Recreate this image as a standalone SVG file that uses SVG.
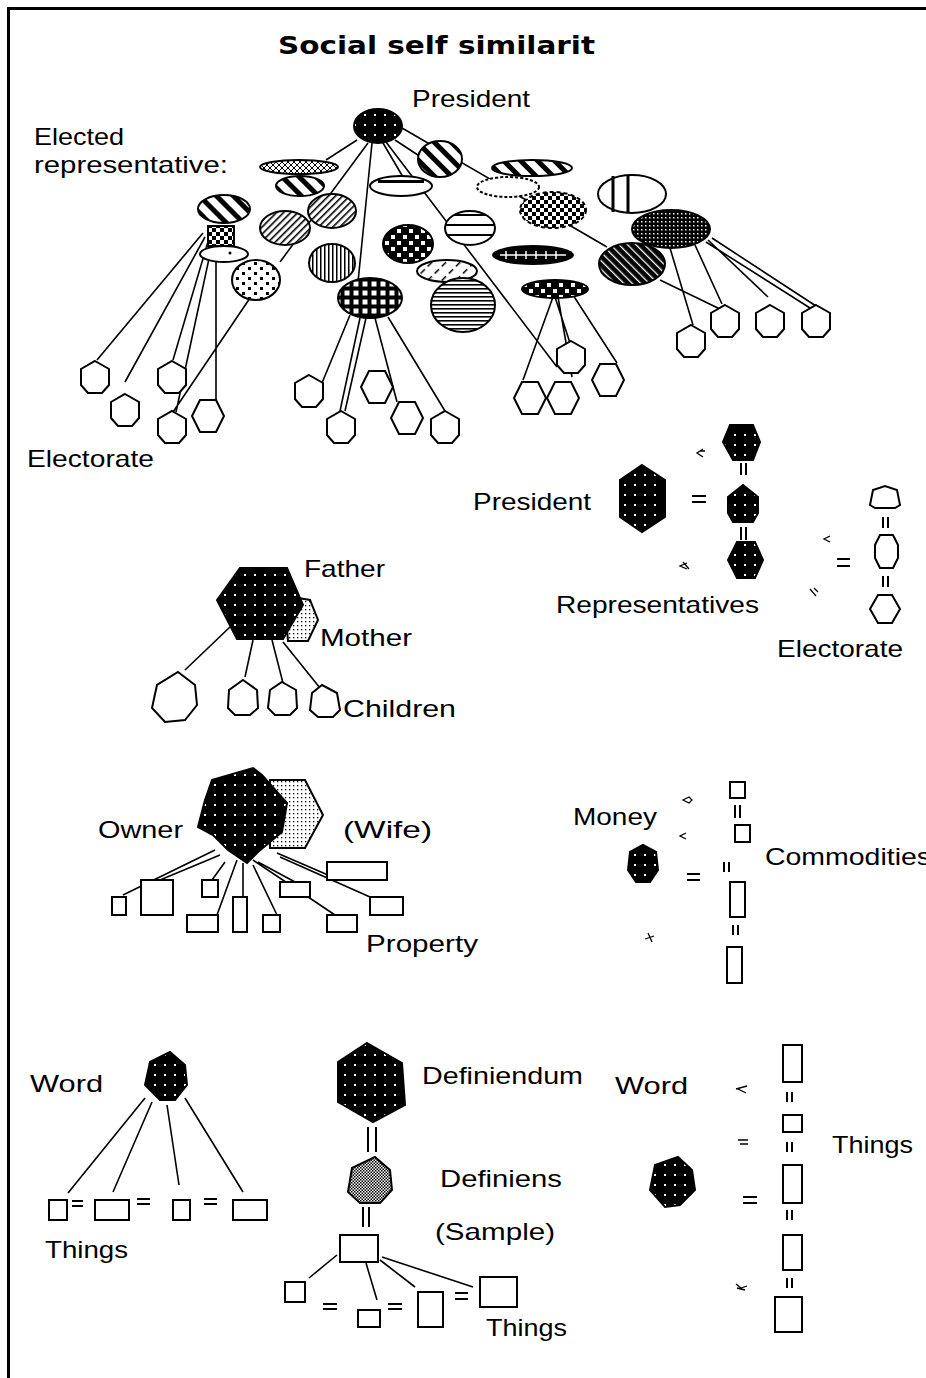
<svg xmlns="http://www.w3.org/2000/svg" width="926" height="1378" viewBox="0 0 926 1378">
<style>
.t{font-family:"Liberation Sans","DejaVu Sans",sans-serif;font-size:24px;fill:#000}
.ttl{font-family:"DejaVu Sans","Liberation Sans",sans-serif;font-size:24px;font-weight:bold;fill:#000}
.ln{stroke:#000;stroke-width:1.6;fill:none}
.o{stroke:#000;stroke-width:2;fill:#fff}
.ob{stroke:#000;stroke-width:2}
.eq{stroke:#000;stroke-width:2;fill:none}
.mk{stroke:#000;stroke-width:1.3;fill:none}
</style>
<defs>
<pattern id="pDots" width="10" height="10" patternUnits="userSpaceOnUse"><rect width="10" height="10" fill="#000"/><rect x="4" y="4" width="2" height="2" fill="#fff"/></pattern>
<pattern id="pFine" width="4" height="4" patternUnits="userSpaceOnUse"><rect width="4" height="4" fill="#000"/><rect x="1" y="1" width="1.5" height="1.5" fill="#fff"/></pattern>
<pattern id="pSpots" width="12" height="10" patternUnits="userSpaceOnUse"><rect width="12" height="10" fill="#fff"/><rect x="2" y="2" width="3" height="3" fill="#000"/><rect x="8" y="7" width="3" height="3" fill="#000"/></pattern>
<pattern id="pLight" width="4" height="4" patternUnits="userSpaceOnUse"><rect width="4" height="4" fill="#fff"/><rect x="1" y="1" width="1.3" height="1.3" fill="#000"/></pattern>
<pattern id="pGray" width="3" height="3" patternUnits="userSpaceOnUse"><rect width="3" height="3" fill="#fff"/><rect width="1.5" height="1.5" fill="#000"/><rect x="1.5" y="1.5" width="1.5" height="1.5" fill="#000"/></pattern>
<pattern id="pDiagF" width="5" height="5" patternUnits="userSpaceOnUse" patternTransform="rotate(45)"><rect width="5" height="5" fill="#fff"/><rect width="1.6" height="5" fill="#000"/></pattern>
<pattern id="pDiagT" width="12" height="12" patternUnits="userSpaceOnUse" patternTransform="rotate(-45)"><rect width="12" height="12" fill="#fff"/><rect width="5" height="12" fill="#000"/></pattern>
<pattern id="pDiagB" width="6" height="6" patternUnits="userSpaceOnUse" patternTransform="rotate(-45)"><rect width="6" height="6" fill="#000"/><rect width="1.3" height="6" fill="#fff"/></pattern>
<pattern id="pDash" width="10" height="10" patternUnits="userSpaceOnUse" patternTransform="rotate(45)"><rect width="10" height="10" fill="#fff"/><rect width="1.5" height="6" fill="#000"/></pattern>
<pattern id="pVert" width="4" height="4" patternUnits="userSpaceOnUse"><rect width="4" height="4" fill="#fff"/><rect width="1.5" height="4" fill="#000"/></pattern>
<pattern id="pHoriz" width="4" height="4" patternUnits="userSpaceOnUse"><rect width="4" height="4" fill="#fff"/><rect width="4" height="1.6" fill="#000"/></pattern>
<pattern id="pHorizW" width="10" height="10" patternUnits="userSpaceOnUse"><rect width="10" height="10" fill="#fff"/><rect y="4" width="10" height="2" fill="#000"/></pattern>
<pattern id="pGrid" width="9" height="9" patternUnits="userSpaceOnUse"><rect width="9" height="9" fill="#000"/><rect x="2.5" y="2.5" width="5" height="5" fill="#fff"/></pattern>
<pattern id="pChecker" width="12" height="12" patternUnits="userSpaceOnUse"><rect width="12" height="12" fill="#000"/><rect x="1" y="1" width="4" height="4" fill="#fff"/><rect x="7" y="7" width="4" height="4" fill="#fff"/></pattern>
<pattern id="pCheck2" width="8" height="8" patternUnits="userSpaceOnUse"><rect width="8" height="8" fill="#fff"/><rect width="4" height="4" fill="#000"/><rect x="4" y="4" width="4" height="4" fill="#000"/></pattern>
<pattern id="pCross" width="6" height="6" patternUnits="userSpaceOnUse"><rect width="6" height="6" fill="#fff"/><path d="M0,0L6,6M6,0L0,6" stroke="#000" stroke-width="1"/></pattern>
<polygon id="hp" points="0,-16 14,-8 14,8 7,16 -7,16 -14,8 -14,-8" fill="#fff" stroke="#000" stroke-width="2"/>
<polygon id="hf" points="-8,-16 8,-16 16,0 8,16 -8,16 -16,0" fill="#fff" stroke="#000" stroke-width="2"/>
</defs>
<rect width="926" height="1378" fill="#fff"/>
<path d="M8.5,1378V8.5H926" stroke="#000" stroke-width="3" fill="none"/>

<text class="ttl" x="278" y="54" textLength="317" lengthAdjust="spacingAndGlyphs">Social self similarit</text>

<g id="connectors">
<path class="ln" d="M357,140L326,160M368,143L280,262M372,143L358,282M383,143L403,177M386,142L557,367M402,128L607,247M395,140L430,163"/>
<path class="ln" d="M203,233L97,360M205,237L125,382M210,235L173,360M213,240L176,412M216,232V400H211M250,298L173,412"/>
<path class="ln" d="M350,315L322,383M360,318L340,411M366,318L345,411M375,318L397,402M388,317L445,411"/>
<path class="ln" d="M553,297L523,380M555,297L570,343M558,297L572,377M573,295L617,363"/>
<path class="ln" d="M670,248L693,325M695,245L722,304M660,280L722,310M708,240L768,297M712,238L816,306M706,242L810,308"/>
<path class="ln" d="M230,627L185,670M253,640L245,677M272,640L283,683M283,642L320,688"/>
<path class="ln" d="M215,850L123,895M220,855L160,880M225,862L212,880M237,860L217,915M243,863V897M253,865L277,915M258,862L295,882M253,860L335,915M277,853L328,875M280,857L370,897"/>
<path class="ln" d="M145,1098L68,1193M152,1102L113,1192M167,1105L179,1185M185,1098L243,1192"/>
<path class="ln" d="M337,1255L309,1278M366,1263L377,1300M380,1260L415,1287M382,1257L473,1287"/>
</g>

<g id="president"><ellipse cx="378" cy="126" rx="24" ry="17" fill="url(#pDots)" class="ob"/></g>
<g id="rep1"><ellipse cx="299" cy="167" rx="39" ry="7" fill="url(#pCross)" class="ob"/></g>
<g id="rep2"><ellipse cx="300" cy="186" rx="24" ry="10" fill="url(#pDiagT)" class="ob"/></g>
<g id="rep3"><ellipse cx="224" cy="209" rx="26" ry="14" fill="url(#pDiagT)" class="ob"/></g>
<g id="rep3b"><rect x="208" y="226" width="26" height="20" fill="url(#pCheck2)" class="ob" stroke-width="1"/></g>
<g id="rep24"><ellipse cx="224" cy="254" rx="24" ry="8" class="o"/><circle cx="230" cy="253" r="1.5"/></g>
<g id="rep4"><ellipse cx="285" cy="228" rx="25" ry="17" fill="url(#pDiagF)" class="ob"/></g>
<g id="rep5"><ellipse cx="332" cy="211" rx="24" ry="17" fill="url(#pDiagF)" class="ob"/></g>
<g id="rep6"><ellipse cx="332" cy="263" rx="23" ry="19" fill="url(#pVert)" class="ob"/></g>
<g id="rep7"><ellipse cx="256" cy="280" rx="24" ry="20" fill="url(#pSpots)" class="ob" stroke-width="3"/></g>
<g id="rep8"><ellipse cx="370" cy="298" rx="32" ry="20" fill="url(#pGrid)" class="ob"/></g>
<g id="rep9"><ellipse cx="408" cy="244" rx="25" ry="19" fill="url(#pChecker)" class="ob"/></g>
<g id="rep10"><ellipse cx="401" cy="186" rx="31" ry="10" class="o"/><rect x="378" y="180" width="46" height="3" fill="#000"/></g>
<g id="rep11"><ellipse cx="440" cy="159" rx="22" ry="18" fill="url(#pDiagT)" class="ob"/></g>
<g id="rep12"><ellipse cx="470" cy="228" rx="25" ry="17" fill="url(#pHorizW)" class="ob"/></g>
<g id="rep13"><ellipse cx="533" cy="255" rx="41" ry="10" fill="#000"/><path d="M500,255H566M506,251V259M516,251V259M526,251V259M536,251V259M546,251V259M556,251V259" stroke="#fff" stroke-width="1.5"/></g>
<g id="rep14"><ellipse cx="447" cy="271" rx="30" ry="11" fill="url(#pDash)" class="ob" stroke-width="1.5"/></g>
<g id="rep15"><ellipse cx="463" cy="305" rx="32" ry="27" fill="url(#pHoriz)" class="ob"/></g>
<g id="rep16"><ellipse cx="532" cy="168" rx="40" ry="8" fill="url(#pDiagT)" class="ob"/></g>
<g id="rep17"><ellipse cx="508" cy="187" rx="31" ry="10" class="o" stroke-dasharray="3 2"/></g>
<g id="rep18"><ellipse cx="553" cy="210" rx="33" ry="18" fill="url(#pCheck2)" class="ob" stroke-dasharray="4 3"/></g>
<g id="rep19"><ellipse cx="632" cy="194" rx="34" ry="19" class="o" stroke-width="3"/><path d="M613,176V212M628,175V213" stroke="#000" stroke-width="3"/></g>
<g id="rep21"><ellipse cx="632" cy="264" rx="33" ry="21" fill="url(#pDiagB)" class="ob"/></g>
<g id="rep20"><ellipse cx="671" cy="229" rx="39" ry="19" fill="url(#pFine)" class="ob"/></g>
<g id="rep23"><ellipse cx="555" cy="289" rx="33" ry="9" fill="url(#pChecker)" class="ob"/></g>

<g id="el1"><use href="#hp" x="95" y="377"/></g>
<g id="el2"><use href="#hp" x="125" y="410"/></g>
<g id="el3"><use href="#hp" x="172" y="377"/></g>
<g id="el4"><use href="#hp" x="172" y="427"/></g>
<g id="el5"><use href="#hf" x="208" y="416"/></g>
<g id="el6"><use href="#hp" x="309" y="391"/></g>
<g id="el7"><use href="#hf" x="377" y="387"/></g>
<g id="el8"><use href="#hp" x="341" y="427"/></g>
<g id="el9"><use href="#hf" x="407" y="418"/></g>
<g id="el10"><use href="#hp" x="445" y="427"/></g>
<g id="el11"><use href="#hp" x="571" y="357"/></g>
<g id="el12"><use href="#hf" x="530" y="398"/></g>
<g id="el13"><use href="#hf" x="563" y="398"/></g>
<g id="el14"><use href="#hf" x="608" y="380"/></g>
<g id="el15"><use href="#hp" x="691" y="341"/></g>
<g id="el16"><use href="#hp" x="725" y="321"/></g>
<g id="el17"><use href="#hp" x="770" y="321"/></g>
<g id="el18"><use href="#hp" x="816" y="321"/></g>

<text class="t" x="412" y="107" textLength="118" lengthAdjust="spacingAndGlyphs">President</text>
<text class="t" x="34" y="145" textLength="90" lengthAdjust="spacingAndGlyphs">Elected</text>
<text class="t" x="34" y="173" textLength="194" lengthAdjust="spacingAndGlyphs">representative:</text>
<text class="t" x="27" y="467" textLength="127" lengthAdjust="spacingAndGlyphs">Electorate</text>

<g id="bigPresident"><polygon points="642,465 665,480 665,517 642,532 620,517 620,480" fill="url(#pDots)" class="ob"/></g>
<g id="repTop"><polygon points="730,425 753,425 760,442 753,460 733,460 723,442" fill="url(#pDots)" class="ob"/></g>
<g id="repMid"><polygon points="743,485 758,497 758,513 753,522 733,522 728,513 728,497" fill="url(#pDots)" class="ob"/></g>
<g id="repBot"><polygon points="737,542 755,542 763,560 755,578 737,578 728,560" fill="url(#pDots)" class="ob"/></g>
<g id="elTop"><polygon points="873,490 885,486 897,490 900,505 895,508 875,508 870,505" class="o"/></g>
<g id="elMid"><polygon points="880,535 893,535 898,545 898,558 893,568 880,568 875,558 875,545" class="o"/></g>
<g id="elBot"><polygon points="878,595 892,595 900,609 892,623 878,623 870,609" class="o"/></g>
<path class="eq" d="M692,496H706M692,502H706M741,463V475M746,463V475M741,527V540M746,527V540M883,517V528M888,517V528M883,576V587M888,576V587M837,559H850M837,566H850"/>
<path class="mk" d="M703,449L697,453L703,457M700,451L705,451M687,563L680,566L687,569M683,562L689,569M830,536L824,539L830,542M810,589L816,596M814,588L818,592"/>
<text class="t" x="473" y="510" textLength="118" lengthAdjust="spacingAndGlyphs">President</text>
<text class="t" x="556" y="613" textLength="203" lengthAdjust="spacingAndGlyphs">Representatives</text>
<text class="t" x="777" y="657" textLength="126" lengthAdjust="spacingAndGlyphs">Electorate</text>

<g id="mother"><polygon points="292,597 310,600 318,620 308,641 288,641 285,605" fill="url(#pLight)" class="ob" stroke-width="1.5"/></g>
<g id="father"><polygon points="240,568 287,568 303,605 283,639 237,639 217,600" fill="url(#pDots)" class="ob"/></g>
<g id="child1"><polygon points="178,672 195,685 197,705 185,720 165,722 152,708 157,685" class="o"/></g>
<g id="child2"><polygon points="243,680 257,690 258,708 250,715 235,715 228,708 229,690" class="o"/></g>
<g id="child3"><polygon points="282,682 296,690 297,708 290,715 275,715 268,708 270,690" class="o"/></g>
<g id="child4"><polygon points="322,685 337,693 340,710 333,717 318,717 310,710 312,693" class="o"/></g>
<text class="t" x="304" y="577" textLength="81" lengthAdjust="spacingAndGlyphs">Father</text>
<text class="t" x="320" y="646" textLength="92" lengthAdjust="spacingAndGlyphs">Mother</text>
<text class="t" x="343" y="717" textLength="113" lengthAdjust="spacingAndGlyphs">Children</text>

<g id="wife"><polygon points="270,780 305,780 323,815 305,848 270,848" fill="url(#pLight)" class="ob" stroke-width="1.5"/></g>
<g id="owner"><polygon points="212,780 253,768 262,775 287,803 282,832 258,852 247,863 228,850 213,835 198,827 205,800" fill="url(#pDots)" class="ob"/></g>
<g id="prop1"><rect x="112" y="897" width="14" height="18" class="o"/></g>
<g id="prop2"><rect x="141" y="880" width="32" height="35" class="o"/></g>
<g id="prop3"><rect x="202" y="880" width="16" height="17" class="o"/></g>
<g id="prop4"><rect x="187" y="915" width="31" height="17" class="o"/></g>
<g id="prop5"><rect x="233" y="897" width="14" height="35" class="o"/></g>
<g id="prop6"><rect x="263" y="915" width="17" height="17" class="o"/></g>
<g id="prop7"><rect x="280" y="882" width="30" height="15" class="o"/></g>
<g id="prop8"><rect x="327" y="915" width="30" height="17" class="o"/></g>
<g id="prop9"><rect x="327" y="862" width="60" height="18" class="o"/></g>
<g id="prop10"><rect x="370" y="897" width="33" height="18" class="o"/></g>
<text class="t" x="98" y="838" textLength="85" lengthAdjust="spacingAndGlyphs">Owner</text>
<text class="t" x="343" y="838" textLength="89" lengthAdjust="spacingAndGlyphs">(Wife)</text>
<text class="t" x="366" y="952" textLength="112" lengthAdjust="spacingAndGlyphs">Property</text>

<g id="money"><polygon points="643,845 656,852 658,870 650,882 636,882 628,870 630,852" fill="url(#pDots)" class="ob"/></g>
<g id="com1"><rect x="730" y="782" width="15" height="16" class="o"/></g>
<g id="com2"><rect x="735" y="825" width="15" height="17" class="o"/></g>
<g id="com3"><rect x="730" y="882" width="15" height="35" class="o"/></g>
<g id="com4"><rect x="727" y="947" width="15" height="36" class="o"/></g>
<path class="eq" d="M735,805V818M740,805V818M724,862V872M729,862V872M733,925V935M738,925V935M687,874H700M687,880H700"/>
<path class="mk" d="M683,800L689,797L692,800L689,803Z M686,833L680,836L686,839M648,933L652,942M645,939L654,936"/>
<text class="t" x="573" y="825" textLength="84" lengthAdjust="spacingAndGlyphs">Money</text>
<text class="t" x="765" y="865" textLength="166" lengthAdjust="spacingAndGlyphs">Commodities</text>

<g id="wordL"><polygon points="170,1052 185,1065 187,1085 175,1100 160,1100 145,1085 150,1062" fill="url(#pDots)" class="ob"/></g>
<g id="thingL1"><rect x="49" y="1200" width="18" height="20" class="o"/></g>
<g id="thingL2"><rect x="95" y="1200" width="34" height="20" class="o"/></g>
<g id="thingL3"><rect x="173" y="1200" width="17" height="20" class="o"/></g>
<g id="thingL4"><rect x="233" y="1200" width="34" height="20" class="o"/></g>
<path class="eq" d="M72,1201H83M72,1206H83M137,1199H150M137,1204H150M204,1199H217M204,1204H217"/>
<text class="t" x="30" y="1092" textLength="73" lengthAdjust="spacingAndGlyphs">Word</text>
<text class="t" x="45" y="1258" textLength="83" lengthAdjust="spacingAndGlyphs">Things</text>

<g id="definiendum"><polygon points="367,1043 402,1063 405,1105 373,1122 338,1102 338,1062" fill="url(#pDots)" class="ob"/></g>
<g id="definiens"><polygon points="375,1157 390,1170 392,1190 380,1203 360,1203 348,1192 352,1168" fill="url(#pGray)" class="ob"/></g>
<g id="sample"><rect x="340" y="1235" width="38" height="27" class="o"/></g>
<g id="thingM1"><rect x="285" y="1282" width="20" height="20" class="o"/></g>
<g id="thingM2"><rect x="358" y="1310" width="22" height="17" class="o"/></g>
<g id="thingM3"><rect x="418" y="1292" width="25" height="35" class="o"/></g>
<g id="thingM4"><rect x="480" y="1277" width="37" height="30" class="o"/></g>
<path class="eq" d="M368,1127V1152M376,1127V1152M363,1207V1227M369,1207V1227M323,1304H337M323,1309H337M388,1304H402M388,1309H402M455,1293H468M455,1299H468"/>
<text class="t" x="422" y="1084" textLength="161" lengthAdjust="spacingAndGlyphs">Definiendum</text>
<text class="t" x="440" y="1187" textLength="122" lengthAdjust="spacingAndGlyphs">Definiens</text>
<text class="t" x="435" y="1240" textLength="120" lengthAdjust="spacingAndGlyphs">(Sample)</text>
<text class="t" x="486" y="1336" textLength="81" lengthAdjust="spacingAndGlyphs">Things</text>

<g id="wordR"><polygon points="678,1157 692,1170 695,1190 680,1205 665,1207 650,1190 655,1165" fill="url(#pDots)" class="ob"/></g>
<g id="thingR1"><rect x="783" y="1045" width="19" height="37" class="o"/></g>
<g id="thingR2"><rect x="783" y="1115" width="19" height="17" class="o"/></g>
<g id="thingR3"><rect x="783" y="1165" width="19" height="38" class="o"/></g>
<g id="thingR4"><rect x="783" y="1235" width="19" height="35" class="o"/></g>
<g id="thingR5"><rect x="775" y="1297" width="27" height="35" class="o"/></g>
<path class="eq" d="M787,1092V1102M792,1092V1102M787,1142V1152M792,1142V1152M787,1210V1220M792,1210V1220M787,1278V1288M792,1278V1288M743,1197H757M743,1203H757"/>
<path class="mk" d="M736,1089L747,1086M738,1089L746,1093M738,1140L748,1140M740,1144L748,1144M736,1284L741,1288L747,1286M737,1288L745,1290"/>
<text class="t" x="615" y="1094" textLength="73" lengthAdjust="spacingAndGlyphs">Word</text>
<text class="t" x="832" y="1153" textLength="81" lengthAdjust="spacingAndGlyphs">Things</text>
</svg>
